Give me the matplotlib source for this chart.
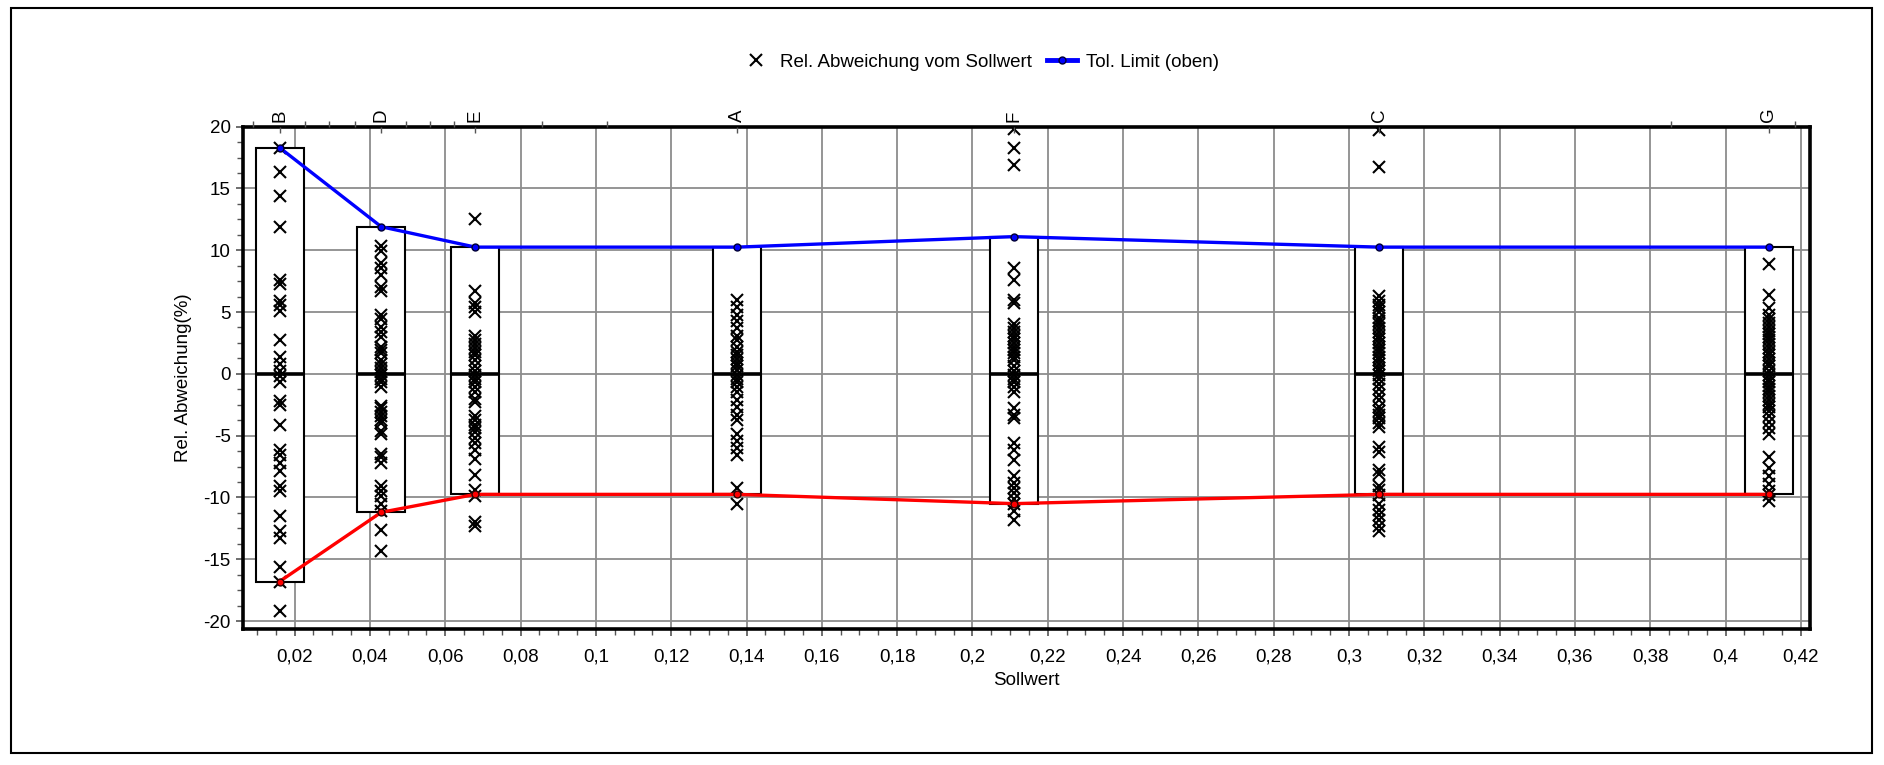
import matplotlib
matplotlib.use("Agg")
import matplotlib.pyplot as plt
from matplotlib.patches import Rectangle
from matplotlib.lines import Line2D
from matplotlib.ticker import MultipleLocator, FuncFormatter, FixedLocator

plt.rcParams['font.family'] = ['Liberation Sans', 'DejaVu Sans']
plt.rcParams['axes.unicode_minus'] = False

# ---- data ----
categories = ['B', 'D', 'E', 'A', 'F', 'C', 'G']
sollwert = [0.016, 0.043, 0.068, 0.1375, 0.211, 0.308, 0.4115]
tol_upper = [18.3, 11.9, 10.25, 10.25, 11.1, 10.25, 10.25]
tol_lower = [-16.8, -11.2, -9.75, -9.75, -10.5, -9.75, -9.75]

dev_B = [18.3, 16.3, 14.4, 11.9, 7.6, 7.3, 5.9, 5.6, 5.1, 2.7, 1.4, 0.8, 0.2, -0.2, -0.7,
         -2.2, -2.5, -4.1, -6.2, -6.6, -7.2, -7.9, -9.1, -9.5, -11.5, -12.7, -13.3, -15.6,
         -16.8, -19.2]
dev_D = [10.35, 9.9, 9.0, 8.6, 8.0, 7.0, 6.7, 4.8, 4.4, 3.8, 3.4, 3.0, 2.2, 1.9, 1.65, 1.1,
         0.8, 0.5, 0.15, -0.1, -0.4, -0.7, -1.1, -2.6, -2.8, -3.1, -3.4, -3.7, -4.0, -4.6,
         -4.9, -6.5, -6.75, -7.2, -9.1, -9.5, -9.9, -10.5, -11.1, -12.6, -14.3]
dev_E = [12.5, 6.7, 5.7, 5.4, 5.0, 3.1, 2.7, 2.4, 2.1, 1.8, 1.5, 1.1, 0.6, 0.2, -0.1, -0.4,
         -0.7, -1.1, -1.5, -2.0, -2.3, -3.4, -3.7, -4.1, -4.4, -4.7, -5.2, -5.6, -6.2, -6.9,
         -8.2, -9.4, -9.9, -12.0, -12.3]
dev_A = [6.0, 5.4, 4.8, 4.3, 3.7, 3.1, 2.7, 2.2, 1.8, 1.5, 1.2, 0.9, 0.6, 0.35, -0.1, -0.4,
         -0.7, -1.1, -1.5, -2.1, -2.7, -3.3, -3.7, -4.9, -5.4, -6.0, -6.6, -9.2, -10.5]
dev_F = [19.8, 18.3, 16.9, 8.6, 7.6, 6.0, 5.7, 4.0, 3.7, 3.4, 3.1, 2.8, 2.5, 2.2, 1.9, 1.65,
         1.4, 1.1, 0.6, 0.2, -0.1, -0.4, -0.7, -1.1, -1.5, -2.8, -3.3, -3.6, -5.6, -6.2, -7.0,
         -8.3, -8.8, -9.2, -9.65, -10.1, -10.5, -11.1, -11.8]
dev_C = [19.7, 16.7, 6.3, 5.9, 5.6, 5.3, 5.0, 4.55, 4.3, 4.0, 3.7, 3.4, 3.1, 2.8, 2.5, 2.2,
         1.9, 1.65, 1.4, 1.1, 0.8, 0.5, 0.2, -0.1, -0.4, -0.8, -1.25, -1.7, -2.1, -2.7, -3.0,
         -3.3, -3.6, -4.0, -4.3, -5.9, -6.3, -7.8, -8.1, -9.1, -9.4, -9.8, -10.5, -11.0,
         -11.4, -11.8, -12.3, -12.7]
dev_G = [8.9, 6.4, 5.3, 4.8, 4.4, 4.1, 3.8, 3.5, 3.2, 3.0, 2.7, 2.4, 2.1, 1.8, 1.5, 1.2,
         0.9, 0.6, 0.2, -0.1, -0.4, -0.7, -1.0, -1.25, -1.5, -1.8, -2.1, -2.4, -2.7, -3.0,
         -3.4, -3.9, -4.4, -4.9, -6.75, -7.6, -8.3, -8.9, -9.5, -9.8, -10.3]
deviations = [dev_B, dev_D, dev_E, dev_A, dev_F, dev_C, dev_G]

x_label = 'Sollwert'
y_label = 'Rel. Abweichung(%)'
legend_labels = ['Rel. Abweichung vom Sollwert', 'Tol. Limit (oben)']

# ---- figure ----
fig = plt.figure(figsize=(18.84, 7.65), dpi=100)
ax = fig.add_axes([0.1290, 0.1778, 0.8317, 0.6567])

box_w = 0.01275
grid_c = '#8c8c8c'

for xv, lo, hi in zip(sollwert, tol_lower, tol_upper):
    ax.add_patch(Rectangle((xv - box_w / 2, lo), box_w, hi - lo, facecolor='white',
                           edgecolor='black', lw=1.5, zorder=2))
    ax.plot([xv - box_w / 2, xv + box_w / 2], [0, 0], color='black', lw=2.6, zorder=2.5,
            solid_capstyle='butt')

for xv, devs in zip(sollwert, deviations):
    ax.plot([xv] * len(devs), devs, linestyle='none', marker='x', ms=8.5, mew=1.5,
            color='black', zorder=3)

ax.plot(sollwert, tol_upper, color='#0000ff', lw=2.4, marker='o', ms=5, mfc='#0000ff',
        mec='#000033', mew=1.0, zorder=4)
ax.plot(sollwert, tol_lower, color='#ff0000', lw=2.4, marker='o', ms=5, mfc='#ff0000',
        mec='#330000', mew=1.0, zorder=4)

ax.set_xlim(0.0063, 0.4224)
ax.set_ylim(-20.64, 20)

ax.xaxis.set_major_locator(FixedLocator([0.02 * i for i in range(1, 22)]))
ax.xaxis.set_minor_locator(MultipleLocator(0.005))
ax.xaxis.set_major_formatter(FuncFormatter(lambda v, p: ('%g' % round(v, 4)).replace('.', ',')))
ax.yaxis.set_major_locator(MultipleLocator(5))
ax.yaxis.set_minor_locator(MultipleLocator(1.25))
ax.yaxis.set_major_formatter(FuncFormatter(lambda v, p: '%d' % round(v)))

ax.tick_params(axis='both', which='major', direction='out', length=5, width=1.2,
               labelsize=13.5, color='#555555')
ax.tick_params(axis='both', which='minor', direction='out', length=4, width=1.0,
               color='#555555')
ax.tick_params(axis='x', which='major', pad=9)
ax.tick_params(axis='y', which='major', pad=4)
ax.tick_params(right=False, which='both')

ax.grid(True, which='major', color=grid_c, lw=1.3)
ax.set_axisbelow(True)

for s in ['left', 'bottom', 'top', 'right']:
    ax.spines[s].set_linewidth(2.6)
    ax.spines[s].set_zorder(5)

ax.set_xlabel(x_label, fontsize=13.5, labelpad=5)
ax.set_ylabel(y_label, fontsize=13.5, labelpad=8)

# top axis with category letters
ax2 = ax.twiny()
ax2.set_xlim(ax.get_xlim())
ax2.set_xticks(sollwert)
ax2.set_xticklabels(categories, rotation=90, fontsize=13.5)
ax2.tick_params(axis='x', which='major', direction='in', length=4, width=1.0,
                color='#555555', pad=3)
top_minor_px = [253, 305, 329, 355, 406, 430, 454, 542, 607, 1671, 1795]
ax2.xaxis.set_minor_locator(FixedLocator([0.02 + (p - 294.7) / 3765.75 for p in top_minor_px]))
ax2.tick_params(axis='x', which='minor', direction='out', length=4, width=1.0,
                color='#555555')
for s in ax2.spines.values():
    s.set_visible(False)

# legend
handles = [Line2D([], [], linestyle='none', marker='x', ms=8.5, mew=1.5, color='black'),
           Line2D([], [], color='#0000ff', lw=3.5, marker='o', ms=5, mfc='#0000ff',
                  mec='#000033', mew=1.0)]
fig.legend(handles, legend_labels, loc='center', bbox_to_anchor=(980 / 1884, 1 - 62 / 765),
           ncol=2, frameon=False, fontsize=13.5, handlelength=1.6, handletextpad=0.5,
           columnspacing=0.8)

# outer frame
fig.add_artist(Rectangle((0.0058, 0.0157), 0.9878, 0.9738, transform=fig.transFigure,
                         fill=False, lw=1.5, ec='black'))

fig.savefig('out.png', dpi=100)
